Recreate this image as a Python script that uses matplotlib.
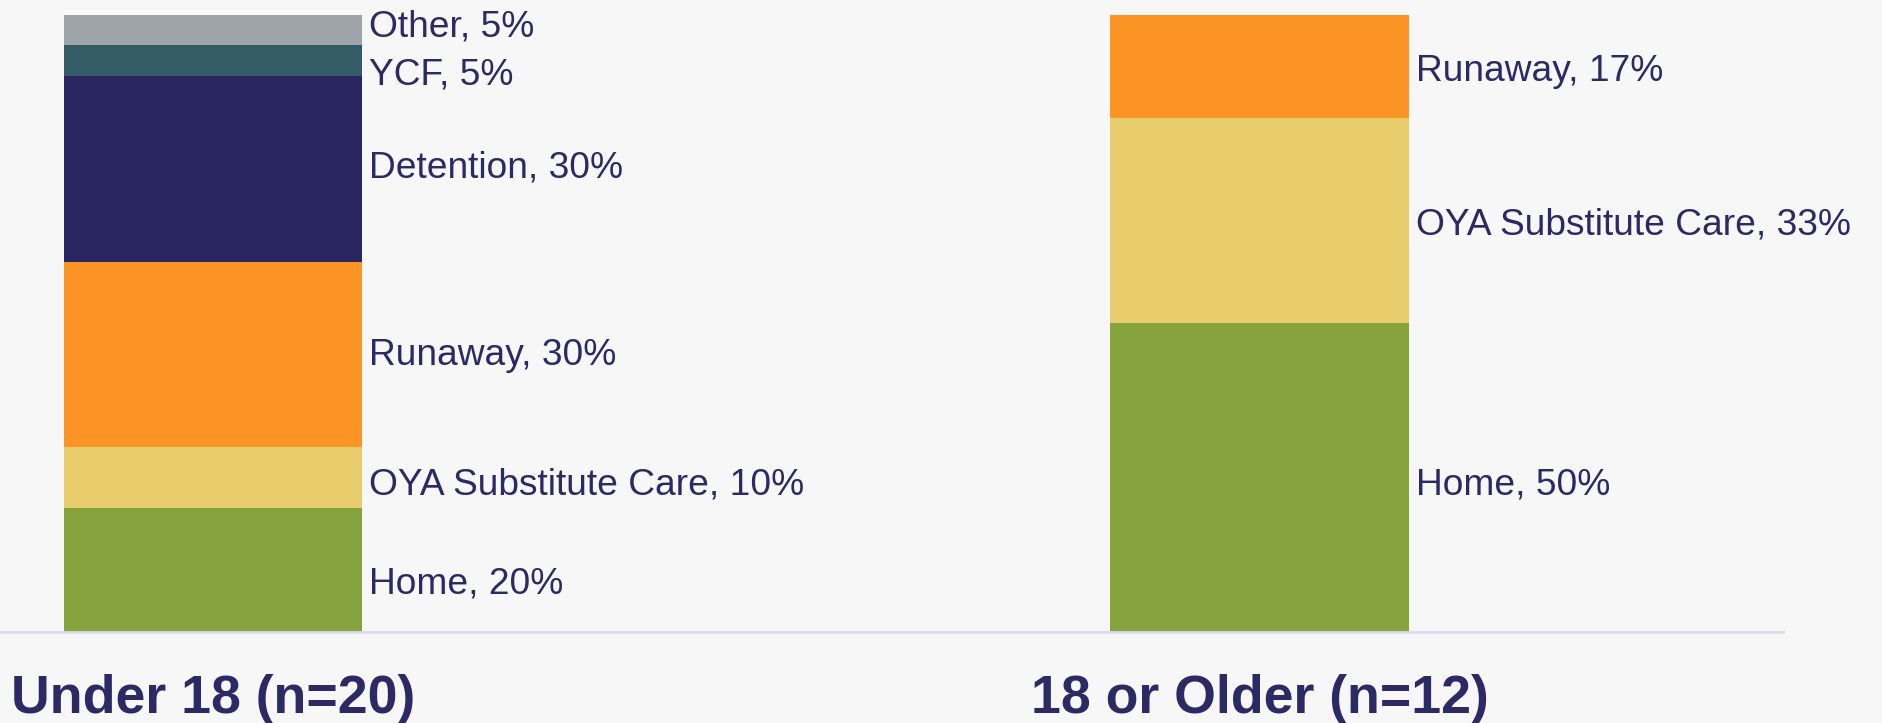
import matplotlib.pyplot as plt

# age groups (x tick labels)
groups = ['Under 18 (n=20)', '18 or Older (n=12)']

# placement categories, stacked bottom to top
under18_cats = ['Home', 'OYA Substitute Care', 'Runaway', 'Detention', 'YCF', 'Other']
under18_vals = [20, 10, 30, 30, 5, 5]
under18_labels = ['Home, 20%', 'OYA Substitute Care, 10%', 'Runaway, 30%',
                  'Detention, 30%', 'YCF, 5%', 'Other, 5%']

older_cats = ['Home', 'OYA Substitute Care', 'Runaway']
older_vals = [50, 33.3, 16.7]
older_labels = ['Home, 50%', 'OYA Substitute Care, 33%', 'Runaway, 17%']

colors = {
    'Home': '#85A43D',
    'OYA Substitute Care': '#E9CC6B',
    'Runaway': '#FB9424',
    'Detention': '#292661',
    'YCF': '#335C67',
    'Other': '#9EA4AA',
}

text_color = '#2B2A64'
bg = '#F7F7F7'

plt.rcParams['font.family'] = ['Liberation Sans', 'DejaVu Sans']

fig = plt.figure(figsize=(18.82, 7.23), dpi=100, facecolor=bg)
ax = fig.add_axes([0, 0.1259, 0.9474, 0.854])
ax.set_facecolor(bg)

bar_w = 0.2856
# small vertical nudges for the labels (in points), so they don't collide
nudges = [[-10, -5, -1, 1, -10, 2], [-5, -3, -4]]

for i, (cats, vals, labels) in enumerate([(under18_cats, under18_vals, under18_labels),
                                          (older_cats, older_vals, older_labels)]):
    bottom = 0
    for j, (c, v, lab) in enumerate(zip(cats, vals, labels)):
        ax.bar(i, v, bottom=bottom, width=bar_w, color=colors[c], linewidth=0)
        ax.annotate(lab, xy=(i + bar_w / 2, bottom + v / 2),
                    xytext=(5, nudges[i][j]), textcoords='offset points',
                    ha='left', va='center', fontsize=26.7, color=text_color)
        bottom += v

ax.set_xlim(-0.2036, 1.5004)
ax.set_ylim(0, 100)
ax.set_xticks([0, 1])
ax.set_xticklabels(groups, fontsize=38.6, fontweight='bold', color=text_color)
ax.tick_params(axis='x', length=0, pad=30)
ax.set_yticks([])

for s in ['top', 'right', 'left']:
    ax.spines[s].set_visible(False)
ax.spines['bottom'].set_color('#DCD9F0')
ax.spines['bottom'].set_linewidth(2)

plt.savefig('out.png', dpi=100, facecolor=bg)
